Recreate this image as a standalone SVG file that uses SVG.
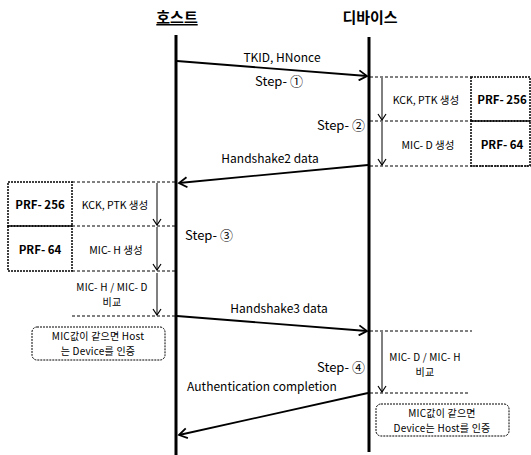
<svg xmlns="http://www.w3.org/2000/svg" width="531" height="455" viewBox="0 0 531 455">
<style>
text{font-family:"Noto Sans CJK KR","Noto Sans",sans-serif;fill:#000}
.t{font-size:10.5px}
.s{font-size:10px;letter-spacing:0.2px}
.b{font-size:11.5px;font-weight:bold}
.m{font-size:12px}
.st{font-size:13px}
.h{font-size:15px;font-weight:bold}
.life{stroke:#000;stroke-width:3}
.msg{stroke:#000;stroke-width:1.8;fill:none}
.dash{stroke:#000;stroke-width:1;stroke-dasharray:3,2;fill:none}
.down{stroke:#000;stroke-width:1;fill:none}
.box{stroke:#000;stroke-width:1.5;fill:none;stroke-dasharray:2,1}
.note{stroke:#000;stroke-width:1;fill:none;stroke-dasharray:2,1}
</style>
<defs>
<marker id="ah" markerWidth="12" markerHeight="12" refX="10" refY="6" orient="auto" markerUnits="userSpaceOnUse">
<polyline points="2,1 10,6 2,11" fill="none" stroke="#000" stroke-width="1.8"/>
</marker>
<marker id="sa" markerWidth="10" markerHeight="10" refX="5" refY="9" orient="0" markerUnits="userSpaceOnUse">
<polyline points="1,3 5,9 9,3" fill="none" stroke="#000" stroke-width="1.2"/>
</marker>
</defs>

<g id="host">
<text class="h" x="177" y="23" text-anchor="middle" text-decoration="underline">호스트</text>
<line class="life" x1="176" y1="35" x2="176" y2="455"/>
</g>
<g id="device">
<text class="h" x="370" y="23" text-anchor="middle">디바이스</text>
<line class="life" x1="369" y1="37" x2="369" y2="452"/>
</g>

<g id="connectors">
<line class="msg" x1="177" y1="61" x2="367" y2="76" marker-end="url(#ah)"/>
<line class="msg" x1="368" y1="165" x2="179" y2="183" marker-end="url(#ah)"/>
<line class="msg" x1="177" y1="316" x2="367" y2="331" marker-end="url(#ah)"/>
<line class="msg" x1="368" y1="393" x2="179" y2="435" marker-end="url(#ah)"/>
<line class="down" x1="382" y1="78" x2="382" y2="120" marker-end="url(#sa)"/>
<line class="down" x1="382" y1="122" x2="382" y2="165" marker-end="url(#sa)"/>
<line class="down" x1="157" y1="183" x2="157" y2="225" marker-end="url(#sa)"/>
<line class="down" x1="157" y1="227" x2="157" y2="270" marker-end="url(#sa)"/>
<line class="down" x1="157" y1="273" x2="157" y2="315" marker-end="url(#sa)"/>
<line class="down" x1="382" y1="332" x2="382" y2="392" marker-end="url(#sa)"/>
<line class="dash" x1="370" y1="77" x2="471" y2="77"/>
<line class="dash" x1="370" y1="121" x2="471" y2="121"/>
<line class="dash" x1="370" y1="166" x2="531" y2="166"/>
<line class="dash" x1="72" y1="182" x2="175" y2="182"/>
<line class="dash" x1="72" y1="226" x2="175" y2="226"/>
<line class="dash" x1="72" y1="271" x2="175" y2="271"/>
<line class="dash" x1="72" y1="316" x2="175" y2="316"/>
<line class="dash" x1="370" y1="331" x2="472" y2="331"/>
<line class="dash" x1="370" y1="393" x2="469" y2="393"/>
</g>

<g id="labels">
<text class="m" x="282" y="62" text-anchor="middle">TKID, HNonce</text>
<text class="st" x="279" y="86" text-anchor="middle">Step- ①</text>
<text class="st" x="341" y="130" text-anchor="middle">Step- ②</text>
<text class="m" x="270" y="163" text-anchor="middle">Handshake2 data</text>
<text class="st" x="209" y="240" text-anchor="middle">Step- ③</text>
<text class="m" x="279" y="313" text-anchor="middle">Handshake3 data</text>
<text class="st" x="341" y="372" text-anchor="middle">Step- ④</text>
<text class="m" x="262" y="391" text-anchor="middle">Authentication completion</text>
</g>

<g id="dev-prf256">
<rect class="box" x="471" y="77" width="59" height="44"/>
<text class="b" x="502" y="104" text-anchor="middle">PRF- 256</text>
<text class="t" x="426" y="104" text-anchor="middle">KCK, PTK 생성</text>
</g>
<g id="dev-prf64">
<rect class="box" x="471" y="121" width="59" height="45"/>
<text class="b" x="502" y="149" text-anchor="middle">PRF- 64</text>
<text class="t" x="428" y="149" text-anchor="middle">MIC- D 생성</text>
</g>
<g id="host-prf256">
<rect class="box" x="8" y="182" width="64" height="44"/>
<text class="b" x="40" y="209" text-anchor="middle">PRF- 256</text>
<text class="t" x="115" y="209" text-anchor="middle">KCK, PTK 생성</text>
</g>
<g id="host-prf64">
<rect class="box" x="8" y="226" width="64" height="45"/>
<text class="b" x="40" y="254" text-anchor="middle">PRF- 64</text>
<text class="t" x="116" y="254" text-anchor="middle">MIC- H 생성</text>
</g>
<g id="host-compare">
<text class="s" x="112" y="291" text-anchor="middle">MIC- H / MIC- D</text>
<text class="s" x="112" y="306" text-anchor="middle">비교</text>
</g>
<g id="dev-compare">
<text class="s" x="425" y="361" text-anchor="middle">MIC- D / MIC- H</text>
<text class="s" x="425" y="376" text-anchor="middle">비교</text>
</g>
<g id="host-note">
<rect class="note" x="32" y="327" width="133" height="33" rx="5"/>
<text class="s" x="98" y="340" text-anchor="middle">MIC값이 같으면 Host</text>
<text class="s" x="98" y="355" text-anchor="middle">는 Device를 인증</text>
</g>
<g id="dev-note">
<rect class="note" x="376" y="404" width="133" height="32" rx="5"/>
<text class="s" x="442" y="417" text-anchor="middle">MIC값이 같으면</text>
<text class="s" x="442" y="432" text-anchor="middle">Device는 Host를 인증</text>
</g>
</svg>
